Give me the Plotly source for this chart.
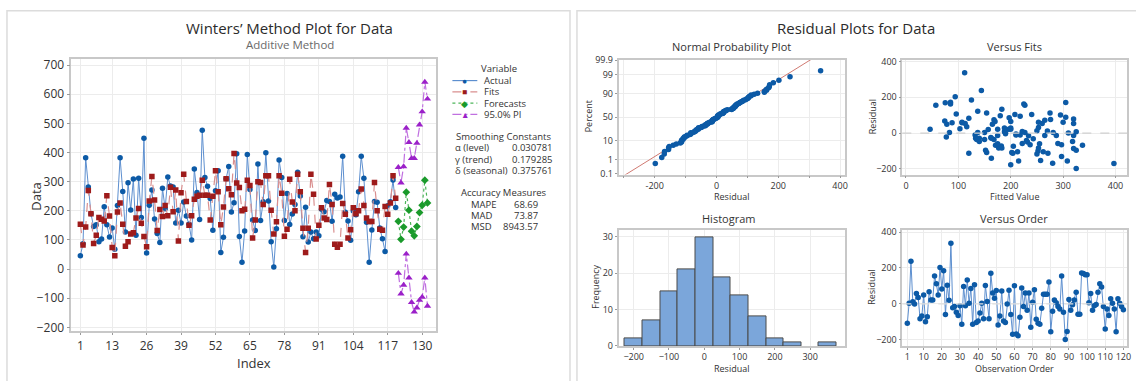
import plotly.graph_objects as go
import numpy as np
from statistics import NormalDist

W, H = 1136, 381
FONT = "Open Sans"
TXT = "#333333"

# ---------------- data ----------------
obs_index = list(range(1, 121))
actual = [46, 87, 382, 282, 190, 146, 152, 94, 103, 214,
          152, 110, 141, 68, 218, 382, 266, 127, 296, 203,
          309, 116, 312, 177, 449, 55, 219, 271, 172, 122,
          91, 277, 207, 316, 285, 282, 158, 202, 158, 230,
          182, 154, 100, 343, 263, 170, 476, 314, 284, 242,
          133, 269, 337, 57, 109, 310, 352, 196, 228, 396,
          112, 23, 131, 393, 273, 168, 132, 361, 167, 231,
          399, 234, 94, 7, 138, 374, 314, 167, 259, 153,
          189, 222, 332, 251, 111, 212, 93, 127, 104, 127,
          114, 205, 197, 235, 232, 164, 257, 244, 247, 387,
          195, 165, 99, 199, 186, 265, 387, 312, 161, 23,
          134, 232, 229, 141, 104, 60, 217, 231, 306, 211]
fits = [154, 83, 144, 270, 190, 88, 116, 177, 171, 165,
        252, 182, 74, 46, 196, 227, 154, 78, 94, 120,
        125, 175, 208, 157, 112, 77, 234, 318, 237, 132,
        204, 180, 218, 183, 281, 197, 271, 96, 262, 325,
        232, 150, 183, 240, 250, 253, 305, 253, 253, 168,
        250, 337, 265, 152, 213, 310, 276, 255, 397, 295,
        280, 200, 205, 305, 287, 107, 168, 300, 297, 222,
        320, 320, 202, 120, 162, 320, 260, 113, 137, 308,
        230, 200, 325, 265, 140, 57, 140, 325, 257, 103,
        150, 210, 175, 170, 290, 222, 85, 75, 85, 225,
        188, 107, 135, 210, 190, 200, 275, 218, 175, 163,
        163, 297, 200, 137, 133, 215, 188, 227, 320, 243]
fc_index = list(range(121, 133))
forecasts = [164, 102, 144, 264, 202, 130, 114, 146, 194, 219, 305, 227]
pi_upper = [349, 296, 352, 484, 435, 380, 380, 432, 495, 540, 642, 584]
pi_lower = [-14, -85, -55, 52, -30, -114, -147, -133, -107, -96, -30, -127]

main_xticks = [1, 13, 26, 39, 52, 65, 78, 91, 104, 117, 130]
main_yticks = [-200, -100, 0, 100, 200, 300, 400, 500, 600, 700]
order_xticks = [1, 10, 20, 30, 40, 50, 60, 70, 80, 90, 100, 110, 120]
npp_xticks = [-300, -200, -100, 0, 100, 200, 300, 400]
npp_xlabels = ["", "-200", "", "0", "", "200", "", "400"]
prob_pct = [0.1, 1, 10, 50, 90, 99, 99.9]
prob_lbl = ["0.1", "1", "10", "50", "90", "99", "99.9"]

legend_labels = ["Actual", "Fits", "Forecasts", "95.0% PI"]
smooth_labels = ["α (level)", "γ (trend)", "δ (seasonal)"]
smooth_values = ["0.030781", "0.179285", "0.375761"]
acc_labels = ["MAPE", "MAD", "MSD"]
acc_values = ["68.69", "73.87", "8943.57"]

# colours
C_ACT, C_ACT_L = "#0c5aa6", "#5d8fcf"
C_FIT, C_FIT_L = "#9e1b1b", "#d98f8f"
C_FC, C_FC_L = "#1a9a2b", "#4db55a"
C_PI, C_PI_L = "#9b20c9", "#c070e0"
C_RES = "#0c5aa6"

resid = np.array(actual, float) - np.array(fits, float)
n = len(resid)
srt = np.sort(resid)
nd = NormalDist()
zq = [nd.inv_cdf((i - 0.3) / (n + 0.4)) for i in range(1, n + 1)]
mu, sd = float(np.mean(resid)), float(np.std(resid, ddof=1))
zline = [-4.0, 4.0]
xline = [mu + sd * z for z in zline]
prob_z = [nd.inv_cdf(p / 100) for p in prob_pct]


def px(x):
    return x / W


def py(y):
    return 1 - y / H


fig = go.Figure()

# ---- main chart ----
fig.add_trace(go.Scatter(x=obs_index, y=actual, mode="lines+markers", xaxis="x", yaxis="y",
                         line=dict(color=C_ACT_L, width=1),
                         marker=dict(color=C_ACT, size=5.5, symbol="circle")))
fig.add_trace(go.Scatter(x=obs_index, y=fits, mode="lines+markers", xaxis="x", yaxis="y",
                         line=dict(color=C_FIT_L, width=1.2, dash="dash"),
                         marker=dict(color=C_FIT, size=5.5, symbol="square")))
fig.add_trace(go.Scatter(x=fc_index, y=forecasts, mode="lines+markers", xaxis="x", yaxis="y",
                         line=dict(color=C_FC_L, width=1.2, dash="dot"),
                         marker=dict(color=C_FC, size=6, symbol="diamond")))
for arr in (pi_upper, pi_lower):
    fig.add_trace(go.Scatter(x=fc_index, y=arr, mode="lines+markers", xaxis="x", yaxis="y",
                             line=dict(color=C_PI_L, width=1.2, dash="dashdot"),
                             marker=dict(color=C_PI, size=6.5, symbol="triangle-up")))

# ---- normal probability ----
fig.add_trace(go.Scatter(x=xline, y=zline, mode="lines", xaxis="x2", yaxis="y2",
                         line=dict(color="#d07a72", width=1)))
fig.add_trace(go.Scatter(x=srt, y=zq, mode="markers", xaxis="x2", yaxis="y2",
                         marker=dict(color=C_RES, size=5.5)))
# ---- versus fits ----
fig.add_trace(go.Scatter(x=fits, y=resid, mode="markers", xaxis="x3", yaxis="y3",
                         marker=dict(color=C_RES, size=5.5)))
# ---- histogram ----
fig.add_trace(go.Histogram(x=resid, xaxis="x4", yaxis="y4",
                           xbins=dict(start=-225, end=375, size=50),
                           marker=dict(color="#7ba6da", line=dict(color="#4a4a4a", width=1))))
# ---- versus order ----
fig.add_trace(go.Scatter(x=obs_index, y=resid, mode="lines+markers", xaxis="x5", yaxis="y5",
                         line=dict(color=C_ACT_L, width=1),
                         marker=dict(color=C_RES, size=5.5)))

frame = dict(showline=True, mirror=True, linecolor="#c8c8c8", linewidth=1.5,
             showgrid=True, gridcolor="#ececec", gridwidth=1, zeroline=False,
             ticks="outside", tickcolor="#9a9a9a", tickangle=0)
small = dict(tickfont=dict(size=9, color=TXT, family=FONT), ticklen=2)

L_X = [px(620.7), px(847.7)]
R_X = [px(905.5), px(1131)]
T_Y = [py(174), py(55.5)]
B_Y = [py(351), py(231.7)]

fig.update_layout(
    width=W, height=H, margin=dict(l=0, r=0, t=0, b=0),
    paper_bgcolor="white", plot_bgcolor="white", showlegend=False,
    font=dict(family=FONT, color=TXT), bargap=0,
    xaxis=dict(domain=[px(71.6), px(437.5)], range=[-2.4, 135.2], tickvals=main_xticks,
               tickfont=dict(size=12, color=TXT), ticklen=2, **frame),
    yaxis=dict(domain=[py(336), py(55)], range=[-214, 720], tickvals=main_yticks,
               tickfont=dict(size=12, color=TXT), ticklen=3, **frame),
    xaxis2=dict(domain=L_X, range=[-317, 415], tickvals=npp_xticks, ticktext=npp_xlabels,
                anchor="y2", **frame, **small),
    yaxis2=dict(domain=T_Y, range=[-3.12, 3.12], tickvals=prob_z, ticktext=prob_lbl, anchor="x2", **frame, **small),
    xaxis3=dict(domain=R_X, range=[-7, 422], tickvals=[0, 100, 200, 300, 400], anchor="y3", **frame, **small),
    yaxis3=dict(domain=T_Y, range=[-231, 409], tickvals=[-200, 0, 200, 400], anchor="x3", **frame, **small),
    xaxis4=dict(domain=L_X, range=[-243, 398], tickvals=[-200, -100, 0, 100, 200, 300], anchor="y4", **frame, **small),
    yaxis4=dict(domain=B_Y, range=[0, 31.8], tickvals=[0, 10, 20, 30], anchor="x4", **frame, **small),
    xaxis5=dict(domain=R_X, range=[-1.76, 122], tickvals=order_xticks, anchor="y5", **frame, **small),
    yaxis5=dict(domain=B_Y, range=[-234, 409], tickvals=[-200, 0, 200, 400], anchor="x5", **frame, **small),
)

shapes = [
    dict(type="rect", xref="paper", yref="paper", x0=px(7), x1=px(572), y0=py(395), y1=py(5),
         line=dict(color="#dcdcdc", width=1.5)),
    dict(type="rect", xref="paper", yref="paper", x0=px(579), x1=px(1145), y0=py(395), y1=py(5),
         line=dict(color="#dcdcdc", width=1.5)),
    dict(type="line", xref="x3 domain", yref="y3", x0=0, x1=1, y0=0, y1=0,
         line=dict(color="#cfcfcf", width=1.2, dash="dash")),
    dict(type="line", xref="x5 domain", yref="y5", x0=0, x1=1, y0=0, y1=0,
         line=dict(color="#dedede", width=1.2, dash="dash")),
]

ann = []


def text(x, y, s, size=10.5, color=TXT, xanchor="center", angle=0):
    ann.append(dict(x=px(x), y=py(y), xref="paper", yref="paper", text=s, showarrow=False,
                    xanchor=xanchor, yanchor="middle", textangle=angle,
                    font=dict(size=size, color=color, family=FONT)))


text(291, 23, "Winters’ Method Plot for Data", size=15, color="#2b2b2b")
text(291, 39.5, "Additive Method", size=11.5, color="#6a6a6a")
text(36, 196, "Data", size=13, angle=-90)
text(255, 369, "Index", size=13)

text(859, 23, "Residual Plots for Data", size=15, color="#2b2b2b")
text(734, 42, "Normal Probability Plot", size=11)
text(1018, 42, "Versus Fits", size=11)
text(731, 219, "Histogram", size=11)
text(1018, 219, "Versus Order", size=11)
text(734, 196.5, "Residual", size=9)
text(1018, 196.5, "Fitted Value", size=9)
text(734, 374, "Residual", size=9)
text(1018, 374, "Observation Order", size=9)
text(590, 114, "Percent", size=9, angle=-90)
text(875, 114, "Residual", size=9, angle=-90)
text(598, 290, "Frequency", size=9, angle=-90)
text(875, 290, "Residual", size=9, angle=-90)

# legend (drawn as decoration)
text(501, 65, "Variable", size=9.5)
leg_style = [(C_ACT_L, C_ACT, "●", "solid"), (C_FIT_L, C_FIT, "■", "dash"),
             (C_FC_L, C_FC, "◆", "dot"), (C_PI_L, C_PI, "▲", "dashdot")]
for k, (lab, (lc, mc, glyph, dash)) in enumerate(zip(legend_labels, leg_style)):
    yy = 77 + k * 11.6
    shapes.append(dict(type="line", xref="paper", yref="paper", x0=px(454), x1=px(479),
                       y0=py(yy), y1=py(yy), line=dict(color=lc, width=1.2, dash=dash)))
    text(466.5, yy, glyph, size=8.5, color=mc)
    text(484, yy, lab, size=9.5, xanchor="left")

text(505, 135, "Smoothing Constants", size=9.5)
for k, (lab, val) in enumerate(zip(smooth_labels, smooth_values)):
    yy = 146.5 + k * 11.5
    text(455, yy, lab, size=9.5, xanchor="left")
    text(557, yy, val, size=9.5, xanchor="right")

text(506, 193, "Accuracy Measures", size=9.5)
for k, (lab, val) in enumerate(zip(acc_labels, acc_values)):
    yy = 204.5 + k * 11.7
    text(471, yy, lab, size=9.5, xanchor="left")
    text(542, yy, val, size=9.5, xanchor="right")

fig.update_layout(shapes=shapes, annotations=ann)
fig.write_html("out.html", config={"displayModeBar": False},
               post_script="document.body.style.margin='0';document.body.style.overflow='hidden';")
